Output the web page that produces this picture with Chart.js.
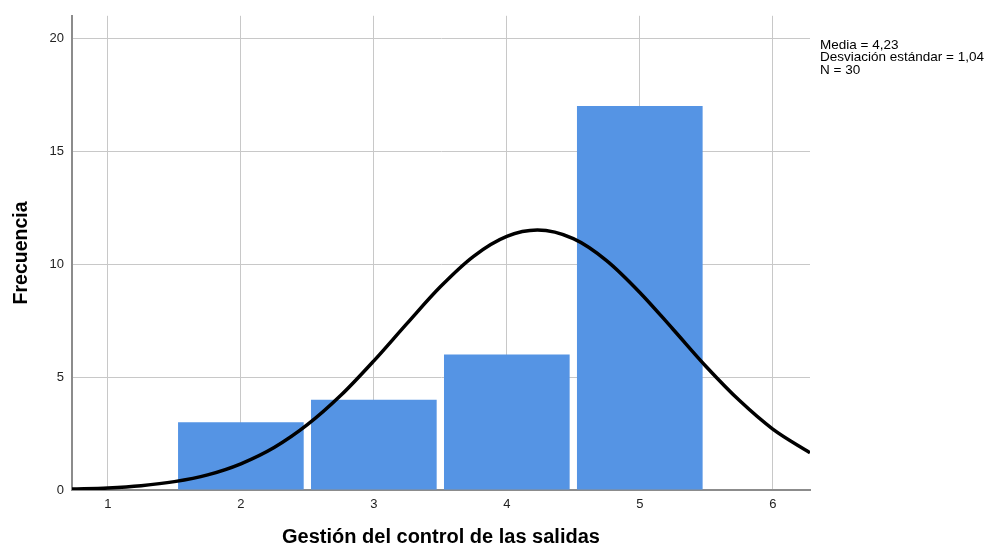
<!DOCTYPE html>
<html>
<head>
<meta charset="utf-8">
<script src="https://cdn.jsdelivr.net/npm/chart.js@4/dist/chart.umd.min.js"></script>
<style>
  html, body { margin: 0; padding: 0; background: #fff; }
  #wrap { width: 989px; height: 547px; position: relative; }
</style>
</head>
<body>
<div id="wrap"><canvas id="histChart"></canvas></div>
<script>
// Histogram bins (value -> frequency)
const binCenters = [2, 3, 4, 5];
const frequencies = [3, 4, 6, 17];

// Normal curve
const curveX = [0.73, 1, 1.25, 1.5, 1.75, 2, 2.25, 2.5, 2.75, 3, 3.25, 3.5, 3.75, 4, 4.23, 4.5, 4.75, 5, 5.25, 5.5, 5.75, 6, 6.28];
const curveY = [0.04, 0.09, 0.19, 0.37, 0.67, 1.16, 1.88, 2.89, 4.18, 5.72, 7.38, 9.0, 10.35, 11.23, 11.51, 11.13, 10.16, 8.75, 7.12, 5.46, 3.96, 2.7, 1.65];

// Axis ticks and stats text
const xTicks = [1, 2, 3, 4, 5, 6];
const yTicks = [0, 5, 10, 15, 20];
const statsLines = ["Media = 4,23", "Desviación estándar = 1,04", "N = 30"];

const font = "'Liberation Sans', Arial, sans-serif";

const statsPlugin = {
  id: "stats",
  afterDraw(chart) {
    const ctx = chart.ctx;
    ctx.save();
    ctx.fillStyle = "#000";
    ctx.font = "13.5px " + font;
    ctx.textBaseline = "middle";
    statsLines.forEach((line, i) => {
      ctx.fillText(line, 820, 45 + i * 12.5);
    });
    ctx.restore();
  },
};

const ctx = document.getElementById("histChart").getContext("2d");
const histChart = new Chart(ctx, {
  type: "bar",
  data: {
    datasets: [
      {
        type: "line",
        data: curveX.map((x, i) => ({ x: x, y: curveY[i] })),
        borderColor: "#000",
        borderWidth: 3.5,
        pointRadius: 0,
        tension: 0.4,
        cubicInterpolationMode: "monotone",
        fill: false,
        order: 0,
      },
      {
        type: "bar",
        data: binCenters.map((x, i) => ({ x: x, y: frequencies[i] })),
        backgroundColor: "#5594e4",
        borderWidth: 0,
        categoryPercentage: 1,
        barPercentage: 0.945,
        order: 1,
      },
    ],
  },
  options: {
    responsive: true,
    maintainAspectRatio: false,
    animation: false,
    layout: { padding: { top: 14, right: 179, left: 10, bottom: 0 } },
    plugins: { legend: { display: false }, tooltip: { enabled: false } },
    scales: {
      x: {
        type: "linear",
        min: 0.73,
        max: 6.28,
        offset: false,
        afterBuildTicks(scale) {
          scale.ticks = xTicks.map((v) => ({ value: v }));
        },
        afterFit(scale) {
          scale.height = 57;
        },
        ticks: {
          color: "#222",
          font: { size: 13, family: font },
          padding: 7,
          maxRotation: 0,
        },
        grid: { color: "#c8c8c8", lineWidth: 1, drawTicks: false, offset: false },
        border: { color: "#8c8c8c", width: 2 },
        title: {
          display: true,
          text: "Gestión del control de las salidas",
          color: "#000",
          font: { size: 20, weight: "bold", family: font, lineHeight: 1 },
          padding: { top: 15, bottom: 0 },
        },
      },
      y: {
        min: 0,
        max: 21,
        afterBuildTicks(scale) {
          scale.ticks = yTicks.map((v) => ({ value: v }));
        },
        afterFit(scale) {
          scale.width = 62;
        },
        ticks: {
          color: "#222",
          font: { size: 13, family: font },
          padding: 8,
        },
        grid: { color: "#c8c8c8", lineWidth: 1, drawTicks: false },
        border: { color: "#8c8c8c", width: 2 },
        title: {
          display: true,
          text: "Frecuencia",
          color: "#000",
          font: { size: 19.5, weight: "bold", family: font },
          padding: { top: 0, bottom: 14 },
        },
      },
    },
  },
  plugins: [statsPlugin],
});
</script>
</body>
</html>
